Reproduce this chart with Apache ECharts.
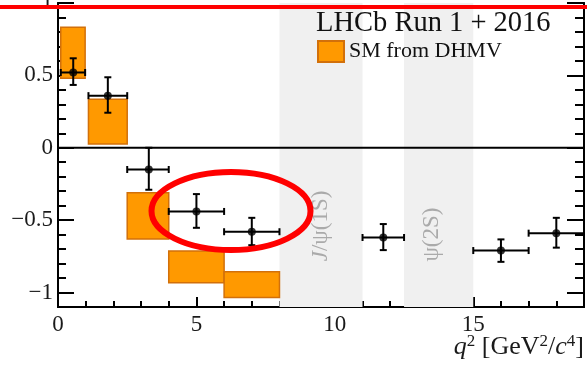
<!DOCTYPE html>
<html>
<head>
<meta charset="utf-8">
<script src="https://cdn.jsdelivr.net/npm/echarts@6/dist/echarts.min.js"></script>
<style>html,body{margin:0;padding:0;background:#fff;}#c{width:587px;height:366px;}</style>
</head>
<body>
<div id="c"></div>
<script>
// ---- data ----
var binLo   = [0.1, 1.1, 2.5, 4.0, 6.0, 11.0, 15.0, 17.0];
var binHi   = [0.98, 2.5, 4.0, 6.0, 8.0, 12.5, 17.0, 19.0];
var dataX   = [0.55, 1.80, 3.28, 5.0, 7.0, 11.75, 16.0, 18.0];
var dataY   = [0.52, 0.36, -0.15, -0.44, -0.58, -0.62, -0.71, -0.59];
var errHi   = [0.618, 0.487, 0.0, -0.32, -0.484, -0.527, -0.633, -0.484];
var errLo   = [0.434, 0.242, -0.29, -0.553, -0.673, -0.707, -0.788, -0.69];
var smBinLo = [0.1, 1.1, 2.5, 4.0, 6.0];
var smBinHi = [0.98, 2.5, 4.0, 6.0, 8.0];
var smHi    = [0.833, 0.335, -0.31, -0.714, -0.857];
var smLo    = [0.48, 0.026, -0.63, -0.933, -1.035];
var vetoLo  = [8.0, 12.5];
var vetoHi  = [11.0, 15.0];
var vetoLabel = ['{i|J}/ψ(1S)', 'ψ(2S)'];
var vetoLabelPos = [[9.5, -0.54], [13.5, -0.60]];
var xMajor = [0, 5, 10, 15];
var yMajor = [-1, -0.5, 0, 0.5, 1];

var xMinor = [];
for (var i = 1; i <= 19; i++) if (i % 5 !== 0) xMinor.push(i);
var yMinor = [];
for (var j = -11; j <= 10; j++) if (j % 5 !== 0) yMinor.push(j / 10);

var serif = "'Liberation Serif', 'DejaVu Serif', serif";
var txt = '#1a1a1a';

var chart = echarts.init(document.getElementById('c'));

function yAx(grid, pos, vals, len, labels) {
  return {
    type: 'value', gridIndex: grid, position: pos, min: -1.1, max: 1.0,
    axisLine: { show: true, onZero: false, lineStyle: { color: '#000', width: 2 } },
    axisTick: { show: true, inside: true, length: len, customValues: vals, lineStyle: { color: '#000', width: 2 } },
    axisLabel: labels ? {
      show: true, customValues: vals, margin: 5, color: txt, fontFamily: serif, fontSize: 23,
      formatter: function (v) { return String(v).replace('-', '\u2212'); }
    } : { show: false },
    splitLine: { show: false }
  };
}
function xAx(grid, vals, len, labels) {
  return {
    type: 'value', gridIndex: grid, position: 'bottom', min: 0, max: 19,
    axisLine: { show: true, onZero: false, lineStyle: { color: '#000', width: 2 } },
    axisTick: { show: true, inside: true, length: len, customValues: vals, lineStyle: { color: '#000', width: 2 } },
    axisLabel: labels ? { show: true, customValues: vals, margin: 6, color: txt, fontFamily: serif, fontSize: 23 } : { show: false },
    splitLine: { show: false }
  };
}

var bandData = vetoLo.map(function (v, k) { return [v, vetoHi[k], vetoLabelPos[k][0], vetoLabelPos[k][1], k]; });
var smData = smBinLo.map(function (v, k) { return [v, smBinHi[k], smLo[k], smHi[k]]; });
var errData = dataX.map(function (v, k) { return [v, dataY[k], binLo[k], binHi[k], errLo[k], errHi[k]]; });
var ptData = dataX.map(function (v, k) { return [v, dataY[k]]; });

var gridBox = { left: 58, right: 3, top: 3, bottom: 59, outerBoundsMode: 'none', containLabel: false };

chart.setOption({
  animation: false,
  backgroundColor: '#fff',
  grid: [Object.assign({}, gridBox), Object.assign({}, gridBox)],
  title: {
    text: 'LHCb Run 1 + 2016', left: 316, top: 9, padding: 0,
    textStyle: { fontFamily: serif, fontSize: 28.5, fontWeight: 'normal', color: '#111' }
  },
  legend: {
    data: ['SM from DHMV'], left: 317, top: 40, padding: 0,
    itemWidth: 26, itemHeight: 21, icon: 'rect', itemGap: 6,
    textStyle: { fontFamily: serif, fontSize: 22, color: '#111' }
  },
  xAxis: [xAx(0, xMajor, 10, true), xAx(1, xMinor, 6, false)],
  yAxis: [yAx(0, 'left', yMajor, 16, true), yAx(0, 'right', yMajor, 17, false),
          yAx(1, 'left', yMinor, 8, false), yAx(1, 'right', yMinor, 9, false)],
  series: [
    {
      type: 'custom', name: 'veto', z: 1, silent: true,
      data: bandData,
      renderItem: function (params, api) {
        var p0 = api.coord([api.value(0), 1.0]);
        var p1 = api.coord([api.value(1), -1.1]);
        var c = api.coord([api.value(2), api.value(3)]);
        var k = api.value(4);
        return {
          type: 'group',
          children: [
            { type: 'rect', shape: { x: p0[0], y: p0[1], width: p1[0] - p0[0], height: p1[1] - p0[1] }, style: { fill: '#f0f0f0' } },
            { type: 'text', x: c[0], y: c[1], rotation: Math.PI / 2,
              style: { text: vetoLabel[k], fill: '#aaaaaa', font: '23px ' + serif, align: 'center', verticalAlign: 'middle',
                rich: { i: { fontStyle: 'italic', fontSize: 23, fontFamily: serif, fill: '#aaaaaa' } } } }
          ]
        };
      }
    },
    {
      type: 'line', name: 'zero', z: 2, silent: true, symbol: 'none',
      data: [[0, 0], [19, 0]],
      lineStyle: { color: '#000', width: 2 }
    },
    {
      type: 'custom', name: 'SM from DHMV', z: 3,
      itemStyle: { color: '#ff9900', borderColor: '#d2700a', borderWidth: 1.5 },
      data: smData,
      renderItem: function (params, api) {
        var p0 = api.coord([api.value(0), api.value(3)]);
        var p1 = api.coord([api.value(1), api.value(2)]);
        return { type: 'rect', shape: { x: p0[0], y: p0[1], width: p1[0] - p0[0], height: p1[1] - p0[1] },
          style: { fill: '#ff9900', stroke: '#d2700a', lineWidth: 1.5 } };
      }
    },
    {
      type: 'custom', name: 'err', z: 4, silent: true,
      data: errData,
      renderItem: function (params, api) {
        var c = api.coord([api.value(0), api.value(1)]);
        var xl = api.coord([api.value(2), api.value(1)])[0];
        var xh = api.coord([api.value(3), api.value(1)])[0];
        var yl = api.coord([api.value(0), api.value(4)])[1];
        var yh = api.coord([api.value(0), api.value(5)])[1];
        var cap = 3.5;
        var st = { stroke: '#000', lineWidth: 2 };
        return {
          type: 'group',
          children: [
            { type: 'line', shape: { x1: xl, y1: c[1], x2: xh, y2: c[1] }, style: st },
            { type: 'line', shape: { x1: c[0], y1: yl, x2: c[0], y2: yh }, style: st },
            { type: 'line', shape: { x1: xl, y1: c[1] - cap, x2: xl, y2: c[1] + cap }, style: st },
            { type: 'line', shape: { x1: xh, y1: c[1] - cap, x2: xh, y2: c[1] + cap }, style: st },
            { type: 'line', shape: { x1: c[0] - cap, y1: yl, x2: c[0] + cap, y2: yl }, style: st },
            { type: 'line', shape: { x1: c[0] - cap, y1: yh, x2: c[0] + cap, y2: yh }, style: st }
          ]
        };
      }
    },
    {
      type: 'scatter', name: 'data', z: 5, symbol: 'circle', symbolSize: 8,
      itemStyle: { color: '#000' }, data: ptData
    }
  ],
  graphic: [
    { type: 'text', right: 3, top: 333, z: 50,
      style: { text: '{i|q}{s|2} [GeV{s|2}/{i|c}{s|4}]', fill: txt, font: '26px ' + serif,
        rich: { i: { fontStyle: 'italic', fontSize: 26, fontFamily: serif, fill: txt, lineHeight: 29 },
                s: { fontSize: 17, fontFamily: serif, fill: txt, verticalAlign: 'top', lineHeight: 29 } } } },
    { type: 'ellipse', z: 100, shape: { cx: 231, cy: 211, rx: 79.5, ry: 39 }, style: { fill: 'none', stroke: '#ff0000', lineWidth: 6 } },
    { type: 'line', z: 100, shape: { x1: 0, y1: 7, x2: 587, y2: 7 }, style: { stroke: '#ff0000', lineWidth: 4 } }
  ]
});
</script>
</body>
</html>
